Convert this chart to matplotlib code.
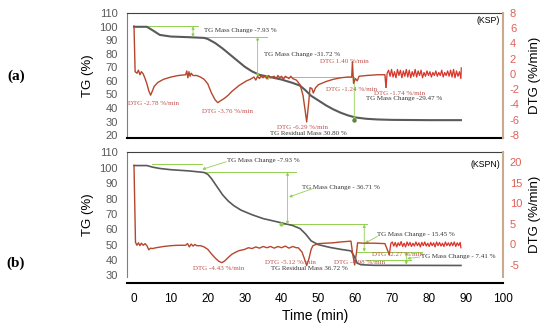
import matplotlib
matplotlib.use('Agg')
import matplotlib.pyplot as plt

plt.rcParams['font.family'] = 'Liberation Sans'
plt.rcParams['axes.unicode_minus'] = False

# (a) KSP - TG curve
tg_a_t = [0, 3.5, 5, 7, 10, 15, 19, 20, 22, 24, 26, 28, 30, 32, 34, 37, 40, 43,
          45, 46.5, 48, 50, 52, 54, 56, 58, 60, 63, 66, 70, 80, 88.6]
tg_a_v = [100, 100, 97.5, 94, 92.8, 92.3, 91.8, 91, 88, 84, 79.5, 75, 70.5, 67, 64.5, 62.8, 61, 58.5,
          56.5, 53, 49, 45.5, 42, 39, 36.5, 34.5, 33, 32, 31.5, 31.2, 31, 31]

# (a) KSP - DTG curve
dtg_a_t = [0, 0.3, 0.8, 1.2, 1.6, 2.0, 2.5, 3.0, 3.5, 4.0, 4.5, 5.0, 5.5, 6.5, 8, 10, 12, 14,
           14.3, 14.6, 14.9, 15.2, 15.5, 16, 17, 18, 19, 20, 21, 22, 22.7, 23.5, 24.5, 25.5,
           26.5, 27.5, 28.5, 29.5, 30.5, 31.5, 32.5, 33, 33.5, 34, 34.5, 35, 35.5, 36, 36.5,
           37, 38, 38.5, 39, 39.5, 40, 40.5, 41, 42, 42.5, 43, 44, 45, 45.8, 46.3, 46.8, 47.3,
           47.7, 48.2, 48.6, 49.2, 50, 52, 54, 56, 58, 59, 59.2, 59.5, 60, 60.5, 61, 63, 66, 68, 68.3]
dtg_a_v = [6.3, 0.3, 0.1, 0.5, -0.1, 0.3, 0.0, -0.6, -1.3, -2.2, -2.78, -2.2, -1.6, -1.1, -0.7, -0.4, -0.2, -0.1,
           0.4, -0.5, 0.3, -0.3, 0.1, -0.2, -0.2, -0.4, -0.7, -1.3, -2.5, -3.4, -3.76, -3.5, -3.2, -2.8,
           -2.3, -1.9, -1.5, -1.2, -0.9, -0.7, -0.4, -0.8, -0.3, -0.6, -0.2, -0.5, -0.2, -0.6, -0.2,
           -0.5, -0.3, -0.6, -0.2, -0.5, -0.3, -0.7, -0.3, -0.6, -0.3, -0.6, -0.8, -1.4, -2.8, -4.5, -6.29, -4.0,
           -1.8, -1.9, -2.5, -1.8, -1.4, -1.0, -0.7, -0.5, -0.4, -0.4, 1.6, -1.24, -0.6, -0.9, -0.3, -0.2, -0.1, -0.1, -1.74]
tail_a_t = [68.3, 68.6, 69.0, 69.4, 69.8, 70.2, 70.6, 71.0, 71.4, 71.8, 72.2, 72.6, 73.0, 73.4, 73.8,
            74.2, 74.6, 75.0, 75.4, 75.8, 76.2, 76.6, 77.0, 77.4, 77.8, 78.2, 78.6, 79.0, 79.4, 79.8,
            80.2, 80.6, 81.0, 81.4, 81.8, 82.2, 82.6, 83.0, 83.4, 83.8, 84.2, 84.6, 85.0, 85.4, 85.8,
            86.2, 86.6, 87.0, 87.4, 87.8, 88.2, 88.6, 88.7]
tail_a_v = [-1.74, 0.1, 0.5, -0.3, 0.6, -0.4, 0.3, -0.5, 0.6, -0.2, 0.5, -0.5, 0.4, -0.3, 0.6,
            -0.4, 0.5, -0.5, 0.3, -0.3, 0.6, -0.4, 0.4, -0.2, 0.5, -0.5, 0.2, -0.3, 0.4, -0.2,
            0.3, -0.4, 0.2, -0.2, 0.4, -0.3, 0.2, -0.2, 0.5, -0.4, 0.2, -0.2, 0.4, -0.3, 0.5,
            -0.4, 0.6, -0.5, 0.4, -0.3, 0.3, -0.6, 0.8]

# (b) KSPN - TG curve
tg_b_t = [0, 3.5, 5, 7, 10, 15, 19, 20, 21, 22, 23, 24, 25.5, 27, 29, 30, 32, 35, 39.5, 43,
          45, 46.5, 47.5, 48, 50, 53, 56, 58.8, 59.8, 60.5, 61.5, 65, 88.6]
tg_b_v = [101.5, 101.5, 100.5, 99.6, 98.8, 98, 97, 95.8, 93, 89.5, 86, 82.5, 78.5, 75.5, 72.5, 71.5, 69.5, 67, 64.5, 62.5,
          60.5, 57, 54, 52.5, 50, 48.3, 47, 46, 42, 38, 37, 36.6, 36.5]

# (b) KSPN - DTG curve
dtg_b_t = [0, 0.4, 0.8, 1.2, 1.6, 2, 2.5, 3, 3.5, 4, 4.5, 5, 6, 8, 10, 12, 14, 14.5, 15, 15.5, 16, 16.5,
           17, 18, 19, 20, 21, 22, 23, 23.8, 24.6, 25.5, 26.5, 27.5, 28.5, 30, 31, 32, 33, 34, 35, 36,
           37, 38, 39, 40, 41, 42, 43, 44, 44.5, 45.5, 46.2, 46.8, 47.4, 48, 48.5, 50, 52, 54, 56, 58.8,
           59.3, 59.8, 60.3, 60.6, 62, 65, 68, 69.2]
dtg_b_v = [19.2, 0.5, -0.2, 0.4, -0.3, 0.3, -0.2, 0.2, -0.3, -1.3, -0.9, -1.0, -0.8, -0.5, -0.3, -0.2, -0.2, 0.2, -0.6, 0.1, -0.4, 0.0,
           -0.3, -0.3, -0.6, -1.2, -2.3, -3.3, -4.1, -4.43, -4.0, -3.2, -2.4, -1.9, -1.5, -1.2, -0.8, -1.0, -0.6, -0.9, -0.5, -0.8,
           -0.5, -0.9, -0.5, -0.8, -0.4, -0.9, -0.5, -0.8, -0.8, -1.8, -3.5, -5.12, -3.5, -1.2, -0.3, 0.2, 0.3, 0.4, 0.6, 0.8,
           -2.5, -4.98, -2.0, 0.4, 0.3, 0.3, 0.2, -2.5]
tail_b_t = [69.2, 69.6, 70.0, 70.4, 70.8, 71.2, 71.6, 72.0, 72.4, 72.8, 73.2, 73.6, 74.0, 74.4, 74.8,
            75.2, 75.6, 76.0, 76.4, 76.8, 77.2, 77.6, 78.0, 78.4, 78.8, 79.2, 79.6, 80.0, 80.4, 80.8,
            81.2, 81.6, 82.0, 82.4, 82.8, 83.2, 83.6, 84.0, 84.4, 84.8, 85.2, 85.6, 86.0, 86.4, 86.8,
            87.2, 87.6, 88.0, 88.4, 88.6]
tail_b_v = [-2.5, 0.2, 0.6, -0.4, 0.5, -0.6, 0.4, -0.3, 0.7, -0.5, 0.3, -0.6, 0.6, -0.3, 0.5,
            -0.5, 0.3, -0.4, 0.6, -0.3, 0.4, -0.6, 0.5, -0.3, 0.6, -0.4, 0.3, -0.5, 0.5, -0.3,
            0.4, -0.6, 0.6, -0.3, 0.5, -0.4, 0.3, -0.5, 0.6, -0.3, 0.4, -0.4, 0.5, -0.3, 0.6,
            -0.5, 0.4, -0.3, 0.5, -0.8]

GREEN = '#92d050'
TG_COL = '#5a5a5a'
DTG_COL = '#b5472d'
TAIL_COL = '#d9342a'
TXT_DTG = '#c0504d'
TXT_TG = '#333333'
SERIF = 'Liberation Serif'

fig = plt.figure(figsize=(5.5, 3.3), dpi=100)


def setup(ax, ax2, tg_lim, tg_ticks, dtg_lim, dtg_ticks):
    ax.set_xlim(-1.9, 100)
    ax.set_ylim(*tg_lim)
    ax.set_yticks(tg_ticks)
    ax.tick_params(axis='y', length=0, labelsize=8, labelcolor='#595959', pad=6.5)
    ax.spines['left'].set_color('#7f7f7f')
    ax.spines['top'].set_color('#404040')
    ax.spines['right'].set_visible(False)
    ax.spines['bottom'].set_color('black')
    ax.spines['bottom'].set_linewidth(1.5)
    ax2.set_ylim(*dtg_lim)
    ax2.set_yticks(dtg_ticks)
    ax2.tick_params(axis='y', length=0, labelsize=8, labelcolor='#e06058', pad=5)
    for s in ['left', 'top', 'bottom']:
        ax2.spines[s].set_visible(False)
    ax2.spines['right'].set_color('#c9aa8c')
    ax2.spines['right'].set_linewidth(1.5)
    ax.set_ylabel('TG (%)', fontsize=9.5)
    ax.yaxis.set_label_coords(-0.089, 0.5)
    ax2.set_ylabel('DTG (%/min)', fontsize=9.5)
    ax2.yaxis.set_label_coords(1.068, 0.5)


def varrow(ax, x, y0, y1):
    ax.annotate('', xy=(x, y1), xytext=(x, y0),
                arrowprops=dict(arrowstyle='<|-|>', color=GREEN, lw=0.6,
                                shrinkA=0, shrinkB=0, mutation_scale=4))


def parrow(ax, x0, y0, x1, y1):
    ax.annotate('', xy=(x1, y1), xytext=(x0, y0),
                arrowprops=dict(arrowstyle='-|>', color=GREEN, lw=0.6,
                                shrinkA=0, shrinkB=0, mutation_scale=4))


def hline(ax, x0, x1, y):
    ax.plot([x0, x1], [y, y], color=GREEN, lw=0.7)


def ttxt(ax, x, y, s, ha='left', color=TXT_TG):
    ax.text(x, y, s, fontsize=5, family=SERIF, color=color, ha=ha, va='center')


# ---------- panel (a) ----------
axa = fig.add_axes([0.2309, 0.5818, 0.6836, 0.3788])
axa2 = axa.twinx()
setup(axa, axa2, (17.8, 110.2), range(20, 111, 10), (-8.4, 8.0), range(-8, 9, 2))
axa.set_xticks([])
axa.plot(tg_a_t, tg_a_v, color=TG_COL, lw=1.5, zorder=3)
axa2.plot(dtg_a_t, dtg_a_v, color=DTG_COL, lw=1.0)
axa2.plot(tail_a_t, tail_a_v, color=TAIL_COL, lw=0.9)

hline(axa, 3.5, 17.3, 100.3)
varrow(axa, 16, 100.3, 92.5)
hline(axa, 16, 36, 92.5)
ttxt(axa, 19, 96.9, 'TG Mass Change -7.93 %')
varrow(axa, 33.5, 92.5, 62.9)
ttxt(axa, 35.1, 79.2, 'TG Mass Change -31.72 %')
hline(axa, 33.5, 59.7, 62.9)
axa.plot([36], [62.9], 'o', color=GREEN, ms=2.2, zorder=4)
varrow(axa, 59.7, 62.9, 30.4)
axa.plot([59.7], [31], 'o', color='#5a8a3a', ms=2.2, zorder=4)
ttxt(axa, 63, 46.7, 'TG Mass Change -29.47 %')
ttxt(axa, 47.3, 21.2, 'TG Residual Mass 30.80 %', ha='center')
ttxt(axa2, 5.4, -3.93, 'DTG -2.78 %/min', ha='center', color=TXT_DTG)
ttxt(axa2, 25.4, -4.97, 'DTG -3.76 %/min', ha='center', color=TXT_DTG)
ttxt(axa2, 45.7, -7.03, 'DTG -6.29 %/min', ha='center', color=TXT_DTG)
ttxt(axa2, 57.0, 1.61, 'DTG 1.40 %/min', ha='center', color=TXT_DTG)
ttxt(axa2, 58.9, -2.09, 'DTG -1.24 %/min', ha='center', color=TXT_DTG)
ttxt(axa2, 71.9, -2.62, 'DTG -1.74 %/min', ha='center', color=TXT_DTG)
axa.text(99.2, 104.5, '(KSP)', fontsize=6.3, ha='right', va='center')

# ---------- panel (b) ----------
axb = fig.add_axes([0.2309, 0.1606, 0.6836, 0.3773])
axb2 = axb.twinx()
setup(axb, axb2, (29, 110), range(30, 111, 10), (-7.9, 22.3), [-5, 0, 5, 10, 15, 20])
axb.spines['bottom'].set_position(('outward', 4.3))
axb.set_xticks(range(0, 101, 10))
axb.tick_params(axis='x', length=0, labelsize=8.5, pad=7)
axb.set_xlabel('Time (min)', fontsize=10, labelpad=3)
axb.plot(tg_b_t, tg_b_v, color=TG_COL, lw=1.2, zorder=3)
axb2.plot(dtg_b_t, dtg_b_v, color=DTG_COL, lw=1.0)
axb2.plot(tail_b_t, tail_b_v, color=TAIL_COL, lw=0.9)

hline(axb, 5, 18.5, 102.3)
parrow(axb, 25, 104, 18.5, 99)
hline(axb, 18.5, 44, 97.2)
ttxt(axb, 25.1, 104.7, 'TG Mass Change -7.93 %')
varrow(axb, 41.6, 97.2, 63.2)
hline(axb, 40, 63.2, 63.2)
axb.plot([39.8], [63.8], 'o', color=GREEN, ms=2.0, zorder=4)
parrow(axb, 48.4, 86.5, 42, 81)
ttxt(axb, 45.4, 87.5, 'TG Mass Change - 36.71 %')
varrow(axb, 62.4, 63.2, 45.4)
hline(axb, 60.5, 78, 45.4)
parrow(axb, 66, 55.5, 62.6, 51)
ttxt(axb, 65.9, 56.8, 'TG Mass Change - 15.45 %')
varrow(axb, 73.8, 45.4, 37)
hline(axb, 62.5, 75, 40.2)
parrow(axb, 77.5, 42, 74, 41)
ttxt(axb, 77.8, 42.3, 'TG Mass Change - 7.41 %')
ttxt(axb, 47.6, 34.8, 'TG Residual Mass 36.72 %', ha='center')
ttxt(axb2, 23.0, -5.8, 'DTG -4.43 %/min', ha='center', color=TXT_DTG)
ttxt(axb2, 42.4, -4.37, 'DTG -5.12 %/min', ha='center', color=TXT_DTG)
ttxt(axb2, 61.1, -4.37, 'DTG -4.98 %/min', ha='center', color=TXT_DTG)
ttxt(axb2, 64.6, -2.35, 'DTG -2.27 %/min', color=TXT_DTG)
axb.text(99.2, 102.5, '(KSPN)', fontsize=6.3, ha='right', va='center')

fig.text(16 / 550, 1 - 76 / 330, '(a)', fontsize=11, family=SERIF, fontweight='bold', ha='center', va='center')
fig.text(16 / 550, 1 - 263 / 330, '(b)', fontsize=11, family=SERIF, fontweight='bold', ha='center', va='center')

fig.savefig('out.png', dpi=100)
